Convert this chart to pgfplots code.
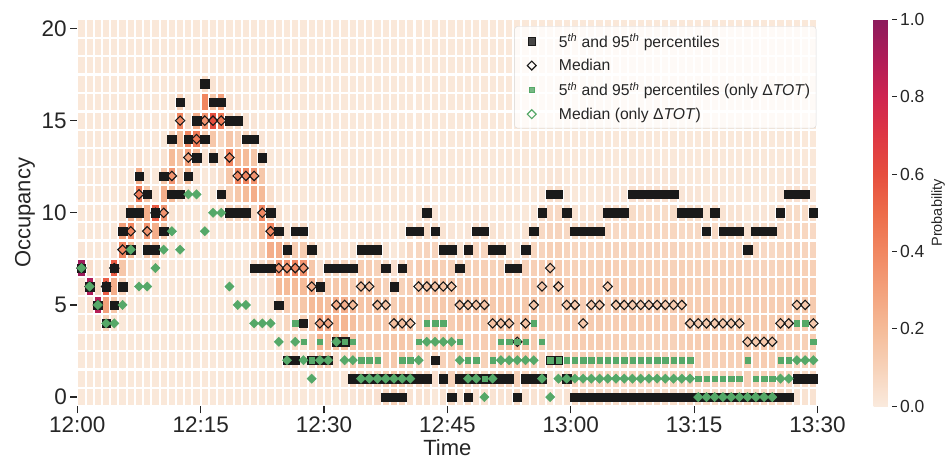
\documentclass[border=0pt]{standalone}
\usepackage{pgfplots}
\pgfplotsset{compat=1.18}
\usepackage{pgfplotstable}
\usepackage{fontspec}
\setmainfont{Liberation Sans}
\definecolor{blk}{RGB}{26,26,26}
\definecolor{sgreen}{RGB}{85,168,104}
\definecolor{txt}{RGB}{38,38,38}
\pgfplotsset{colormap={rocketr}{rgb255=(250,234,221) rgb255=(247,210,185) rgb255=(245,187,152) rgb255=(243,161,124) rgb255=(241,135,97) rgb255=(237,108,74) rgb255=(230,78,62) rgb255=(222,55,68) rgb255=(207,36,80) rgb255=(175,28,88) rgb255=(140,27,92)}}
\pgfdeclareplotmark{cell}{\pgfpathrectangle{\pgfqpoint{-3.11pt}{-8.08pt}}{\pgfqpoint{6.22pt}{16.16pt}}\pgfusepathqfill}
\pgfplotsset{myleg/.style={legend image code/.code={\path (0pt,-5pt) (38pt,5pt); \draw[##1] plot coordinates {(13pt,0pt)};}}}
% probability (percent) per minute column (rows) and occupancy 0..20 (columns r0..r20)
\pgfplotstableread{
r0 r1 r2 r3 r4 r5 r6 r7 r8 r9 r10 r11 r12 r13 r14 r15 r16 r17 r18 r19 r20
1 1 1 1 1 1 2 95 2 1 1 1 1 1 1 1 1 1 1 1 1
1 1 1 1 1 3 90 5 1 1 1 1 1 1 1 1 1 1 1 1 1
1 1 1 1 3 88 6 1 1 1 1 1 1 1 1 1 1 1 1 1 1
1 1 1 2 10 30 55 3 1 1 1 1 1 1 1 1 1 1 1 1 1
1 1 1 1 3 15 25 55 2 1 1 1 1 1 1 1 1 1 1 1 1
1 1 1 1 1 3 10 15 40 30 2 1 1 1 1 1 1 1 1 1 1
1 1 1 1 1 1 1 6 20 40 25 3 1 1 1 1 1 1 1 1 1
1 1 1 1 1 1 1 1 1 5 20 45 25 3 1 1 1 1 1 1 1
1 1 1 1 1 1 1 3 15 35 25 15 3 1 1 1 1 1 1 1 1
1 1 1 1 1 1 1 3 15 25 55 3 1 1 1 1 1 1 1 1 1
1 1 1 1 1 1 1 1 3 15 35 25 15 3 1 1 1 1 1 1 1
1 1 1 1 1 1 1 1 1 1 3 20 35 20 10 3 1 1 1 1 1
1 1 1 1 1 1 1 1 1 1 2 5 10 15 20 40 10 2 1 1 1
1 1 1 1 1 1 1 1 1 1 1 3 20 30 40 5 1 1 1 1 1
1 1 1 1 1 1 1 1 1 1 1 1 3 20 45 25 3 1 1 1 1
1 1 1 1 1 1 1 1 1 1 1 1 1 3 12 35 40 6 2 1 1
1 1 1 1 1 1 1 1 1 1 1 1 2 8 15 60 15 3 1 1 1
1 1 1 1 1 1 1 1 1 1 2 5 5 5 8 45 30 3 1 1 1
1 1 1 1 1 1 1 1 1 3 8 10 15 40 15 6 2 1 1 1 1
1 1 1 1 1 1 1 1 1 3 8 15 40 20 10 6 2 1 1 1 1
1 1 1 1 1 1 1 1 1 3 8 20 40 20 8 3 1 1 1 1 1
1 1 1 1 1 1 2 4 6 6 8 25 35 15 6 2 1 1 1 1 1
1 1 1 1 1 1 2 5 10 20 40 20 15 6 2 1 1 1 1 1 1
1 1 1 1 1 2 4 12 25 40 10 5 1 1 1 1 1 1 1 1 1
1 1 1 1 3 8 20 35 25 8 3 1 1 1 1 1 1 1 1 1 1
1 2 4 6 8 12 20 35 15 3 1 1 1 1 1 1 1 1 1 1 1
1 2 4 6 8 12 20 40 12 6 2 1 1 1 1 1 1 1 1 1 1
1 1 1 3 10 15 20 35 12 6 2 1 1 1 1 1 1 1 1 1 1
1 2 5 10 15 20 25 15 8 3 1 1 1 1 1 1 1 1 1 1 1
1 3 12 22 30 20 12 4 1 1 1 1 1 1 1 1 1 1 1 1 1
1 3 12 18 28 18 12 8 3 1 1 1 1 1 1 1 1 1 1 1 1
1 1 5 18 22 25 15 8 3 1 1 1 1 1 1 1 1 1 1 1 1
1 1 5 18 22 25 15 8 3 1 1 1 1 1 1 1 1 1 1 1 1
2 8 12 15 18 20 12 6 3 1 1 1 1 1 1 1 1 1 1 1 1
3 7 10 12 14 16 18 12 6 2 1 1 1 1 1 1 1 1 1 1 1
3 7 10 12 14 16 18 12 6 2 1 1 1 1 1 1 1 1 1 1 1
4 8 10 12 14 18 14 10 6 2 1 1 1 1 1 1 1 1 1 1 1
8 12 12 13 14 16 10 6 3 1 1 1 1 1 1 1 1 1 1 1 1
10 14 14 15 18 12 8 4 1 1 1 1 1 1 1 1 1 1 1 1 1
8 12 13 15 18 14 10 6 3 1 1 1 1 1 1 1 1 1 1 1 1
3 7 10 13 16 14 12 10 7 5 2 1 1 1 1 1 1 1 1 1 1
3 7 9 11 12 14 16 12 8 5 2 1 1 1 1 1 1 1 1 1 1
3 6 8 10 12 13 16 12 9 6 4 2 1 1 1 1 1 1 1 1 1
1 4 8 11 13 14 16 13 9 6 2 1 1 1 1 1 1 1 1 1 1
3 7 10 12 13 14 16 11 7 3 1 1 1 1 1 1 1 1 1 1 1
6 10 11 12 12 13 15 10 6 2 1 1 1 1 1 1 1 1 1 1 1
3 8 11 13 15 18 13 8 3 1 1 1 1 1 1 1 1 1 1 1 1
6 9 11 12 13 16 13 10 6 2 1 1 1 1 1 1 1 1 1 1 1
3 7 10 12 14 16 13 11 8 5 2 1 1 1 1 1 1 1 1 1 1
3 7 10 12 14 16 13 11 8 5 2 1 1 1 1 1 1 1 1 1 1
3 8 12 14 17 14 12 10 7 3 1 1 1 1 1 1 1 1 1 1 1
3 8 12 14 17 14 12 10 7 3 1 1 1 1 1 1 1 1 1 1 1
3 9 13 15 18 14 12 8 3 1 1 1 1 1 1 1 1 1 1 1 1
6 11 14 18 15 13 10 7 3 1 1 1 1 1 1 1 1 1 1 1 1
3 8 12 14 17 14 12 10 7 3 1 1 1 1 1 1 1 1 1 1 1
3 7 10 12 14 16 13 11 8 5 2 1 1 1 1 1 1 1 1 1 1
3 6 8 10 12 13 15 12 9 7 5 2 1 1 1 1 1 1 1 1 1
1 3 7 9 10 12 13 15 11 9 7 5 2 1 1 1 1 1 1 1 1
1 3 7 9 10 12 15 13 11 9 7 5 2 1 1 1 1 1 1 1 1
3 6 9 11 13 15 13 11 9 7 5 2 1 1 1 1 1 1 1 1 1
6 9 11 12 13 14 12 10 8 6 3 1 1 1 1 1 1 1 1 1 1
6 9 11 12 14 12 12 10 8 6 3 1 1 1 1 1 1 1 1 1 1
6 9 11 12 13 14 12 10 8 6 3 1 1 1 1 1 1 1 1 1 1
6 9 11 12 13 14 12 10 8 6 3 1 1 1 1 1 1 1 1 1 1
5 8 9 10 11 12 14 12 9 7 5 2 1 1 1 1 1 1 1 1 1
5 8 9 11 12 14 12 11 9 7 5 2 1 1 1 1 1 1 1 1 1
5 8 9 11 12 14 12 11 9 7 5 2 1 1 1 1 1 1 1 1 1
5 8 9 10 12 13 12 10 9 8 6 4 2 1 1 1 1 1 1 1 1
5 8 9 10 12 13 12 10 9 8 6 4 2 1 1 1 1 1 1 1 1
5 8 9 10 12 13 12 10 9 8 6 4 2 1 1 1 1 1 1 1 1
5 8 9 10 12 13 12 10 9 8 6 4 2 1 1 1 1 1 1 1 1
5 8 9 10 12 13 12 10 9 8 6 4 2 1 1 1 1 1 1 1 1
5 8 9 10 12 13 12 10 9 8 6 4 2 1 1 1 1 1 1 1 1
5 8 9 11 12 14 12 11 9 7 5 2 1 1 1 1 1 1 1 1 1
6 9 10 12 14 12 11 10 8 7 5 2 1 1 1 1 1 1 1 1 1
6 9 10 12 14 12 11 10 8 7 5 2 1 1 1 1 1 1 1 1 1
6 9 11 12 14 12 11 10 8 6 3 1 1 1 1 1 1 1 1 1 1
6 9 10 12 14 12 11 10 8 7 5 2 1 1 1 1 1 1 1 1 1
6 9 11 12 14 12 11 10 8 6 3 1 1 1 1 1 1 1 1 1 1
6 9 11 12 14 12 11 10 8 6 3 1 1 1 1 1 1 1 1 1 1
6 9 11 12 14 12 11 10 8 6 3 1 1 1 1 1 1 1 1 1 1
8 11 13 15 13 12 11 9 6 3 1 1 1 1 1 1 1 1 1 1 1
7 10 12 14 13 12 11 9 7 5 2 1 1 1 1 1 1 1 1 1 1
7 10 12 14 13 12 11 9 7 5 2 1 1 1 1 1 1 1 1 1 1
7 10 12 14 13 12 11 9 7 5 2 1 1 1 1 1 1 1 1 1 1
6 9 10 12 14 12 11 10 8 7 5 2 1 1 1 1 1 1 1 1 1
5 8 10 11 13 12 11 10 9 7 6 4 2 1 1 1 1 1 1 1 1
3 6 9 11 12 14 12 11 9 8 6 4 2 1 1 1 1 1 1 1 1
3 6 9 11 12 14 12 11 9 8 6 4 2 1 1 1 1 1 1 1 1
3 7 10 12 14 13 12 11 9 7 5 2 1 1 1 1 1 1 1 1 1
}\heat
\begin{document}
\begin{tikzpicture}[x=1pt,y=1pt]
\path[use as bounding box] (0,0) rectangle (948,463);
\begin{axis}[
  at={(77.3pt,56.7pt)}, anchor=south west,
  scale only axis, width=740.2pt, height=387pt,
  xmin=0, xmax=90, ymin=-0.5, ymax=20.5,
  axis line style={draw=none},
  xtick={0,15,30,45,60,75,90},
  xticklabels={12:00,12:15,12:30,12:45,13:00,13:15,13:30},
  ytick={0,5,10,15,20},
  tick align=outside, xtick pos=bottom, ytick pos=left,
  major tick length=7pt,
  tick style={color=txt, line width=1.2pt},
  /pgf/number format/assume math mode=true,
  ticklabel style={font=\fontsize{22.5}{22.5}\selectfont, text=txt},
  xlabel={Time}, ylabel={Occupancy},
  label style={font=\fontsize{22}{22}\selectfont, text=txt},
  colormap name=rocketr,
  point meta min=0, point meta max=100,
  colorbar,
  colorbar style={
    at={(parent axis.north east)}, anchor=north west, xshift=47.5pt,
    width=18pt,
    axis line style={draw=none},
    ytick={0,20,40,60,80,100},
    yticklabels={0.0,0.2,0.4,0.6,0.8,1.0},
    yticklabel pos=right, ytick pos=right,
    tick align=outside, major tick length=5pt,
    tick style={color=txt, line width=1pt},
    ticklabel style={font=\fontsize{17.5}{17.5}\selectfont, text=txt},
    ylabel={Probability},
    ylabel style={font=\fontsize{14.5}{14.5}\selectfont, text=txt},
  },
  legend style={at={(0.9985,0.982)}, anchor=north east,
    font=\fontsize{15.7}{15.7}\selectfont, text=txt,
    fill=white, fill opacity=0.8, text opacity=1, draw=black!15,
    rounded corners=3pt, row sep=6.5pt, inner xsep=4pt, inner ysep=5.5pt},
  legend cell align=left,
]
\addlegendimage{myleg, only marks, mark=square*, mark size=3.7pt, color=blk}
\addlegendentry{5\textsuperscript{\textit{th}} and 95\textsuperscript{\textit{th}} percentiles}
\addlegendimage{myleg, only marks, mark=square, mark size=3.1pt, mark options={rotate=45, draw=blk, line width=1.1pt}}
\addlegendentry{Median}
\addlegendimage{myleg, only marks, mark=square*, mark size=2.6pt, color=sgreen}
\addlegendentry{5\textsuperscript{\textit{th}} and 95\textsuperscript{\textit{th}} percentiles (only Δ\textit{TOT})}
\addlegendimage{myleg, only marks, mark=square, mark size=3.1pt, mark options={rotate=45, draw=sgreen, line width=1.1pt}}
\addlegendentry{Median (only Δ\textit{TOT})}

\pgfplotsinvokeforeach{0,...,20}{
  \addplot[scatter, only marks, mark=cell, point meta=explicit,
    scatter/use mapped color={draw=none, fill=mapped color}, forget plot]
    table[x expr=\coordindex+0.5, y expr=#1, meta=r#1] {\heat};
}

% 5th and 95th percentiles
\addplot[only marks, mark=square*, mark size=4.2pt, color=blk, forget plot] coordinates {
(0.5,7)(1.5,6)(2.5,5)(3.5,4)(3.5,6)(4.5,5)(4.5,7)(5.5,6)(5.5,9)(6.5,8)(6.5,10)(7.5,10)(7.5,12)(8.5,8)(8.5,11)(9.5,8)(9.5,10)(10.5,9)(10.5,12)(11.5,11)(11.5,14)(12.5,11)(12.5,16)(13.5,12)(13.5,14)(14.5,13)(14.5,15)(15.5,14)(15.5,17)(16.5,13)(16.5,16)(17.5,11)(17.5,16)(18.5,10)(18.5,15)(19.5,10)(19.5,15)(20.5,10)(20.5,14)(21.5,7)(21.5,14)(22.5,7)(22.5,13)(23.5,7)(23.5,10)(24.5,5)(24.5,9)(25.5,2)(25.5,8)(26.5,2)(26.5,9)(27.5,4)(27.5,9)(28.5,2)(28.5,8)(29.5,2)(29.5,6)
(30.5,2)(30.5,7)(31.5,3)(31.5,7)(32.5,3)(32.5,7)(33.5,1)(33.5,7)(34.5,1)(34.5,8)(35.5,1)(35.5,8)(36.5,1)(36.5,8)(37.5,0)(37.5,1)(37.5,7)(38.5,0)(38.5,1)(38.5,6)(39.5,0)(39.5,1)(39.5,7)(40.5,1)(40.5,9)(41.5,1)(41.5,9)(42.5,1)(42.5,10)(43.5,2)(43.5,9)(44.5,1)(44.5,8)(45.5,0)(45.5,8)(46.5,1)(46.5,7)(47.5,0)(47.5,1)(47.5,8)(48.5,1)(48.5,9)(49.5,1)(49.5,9)(50.5,1)(50.5,8)(51.5,1)(51.5,8)(52.5,1)(52.5,7)(53.5,0)(53.5,7)(54.5,1)(54.5,8)(55.5,1)(55.5,9)(56.5,1)(56.5,10)(57.5,2)(57.5,11)(58.5,2)(58.5,11)(59.5,1)(59.5,10)
(60.5,0)(60.5,9)(61.5,0)(61.5,9)(62.5,0)(62.5,9)(63.5,0)(63.5,9)(64.5,0)(64.5,10)(65.5,0)(65.5,10)(66.5,0)(66.5,10)(67.5,0)(67.5,11)(68.5,0)(68.5,11)(69.5,0)(69.5,11)(70.5,0)(70.5,11)(71.5,0)(71.5,11)(72.5,0)(72.5,11)(73.5,0)(73.5,10)(74.5,0)(74.5,10)(75.5,0)(75.5,10)(76.5,0)(76.5,9)(77.5,0)(77.5,10)(78.5,0)(78.5,9)(79.5,0)(79.5,9)(80.5,0)(80.5,9)(81.5,0)(81.5,8)(82.5,0)(82.5,9)(83.5,0)(83.5,9)(84.5,0)(84.5,9)(85.5,0)(85.5,10)(86.5,0)(86.5,11)(87.5,1)(87.5,11)(88.5,1)(88.5,11)(89.5,1)(89.5,10)
};
% median
\addplot[only marks, mark=square, mark size=3.3pt, mark options={rotate=45, draw=blk, line width=1.1pt}, forget plot] coordinates {
(0.5,7)(1.5,6)(2.5,5)(3.5,6)(4.5,7)(5.5,8)(6.5,9)(7.5,11)(8.5,9)(9.5,10)(10.5,10)(11.5,12)(12.5,15)(13.5,13)(14.5,14)(15.5,15)(16.5,15)(17.5,15)(18.5,13)(19.5,12)(20.5,12)(21.5,12)(22.5,10)(23.5,9)(24.5,7)(25.5,7)(26.5,7)(27.5,7)(28.5,6)(29.5,4)
(30.5,4)(31.5,5)(32.5,5)(33.5,5)(34.5,6)(35.5,6)(36.5,5)(37.5,5)(38.5,4)(39.5,4)(40.5,4)(41.5,6)(42.5,6)(43.5,6)(44.5,6)(45.5,6)(46.5,5)(47.5,5)(48.5,5)(49.5,5)(50.5,4)(51.5,4)(52.5,4)(53.5,3)(54.5,4)(55.5,5)(56.5,6)(57.5,7)(58.5,6)(59.5,5)
(60.5,5)(61.5,4)(62.5,5)(63.5,5)(64.5,6)(65.5,5)(66.5,5)(67.5,5)(68.5,5)(69.5,5)(70.5,5)(71.5,5)(72.5,5)(73.5,5)(74.5,4)(75.5,4)(76.5,4)(77.5,4)(78.5,4)(79.5,4)(80.5,4)(81.5,3)(82.5,3)(83.5,3)(84.5,3)(85.5,4)(86.5,4)(87.5,5)(88.5,5)(89.5,4)
};
% 5th and 95th percentiles (only dTOT)
\addplot[only marks, mark=square*, mark size=2.7pt, color=sgreen, forget plot] coordinates {
(26.5,4)(42.5,4)(43.5,4)(44.5,4)(55.5,4)(87.5,4)(88.5,4)
(27.5,3)(29.5,3)(32.5,3)(33.5,3)(41.5,3)(46.5,3)(51.5,3)(52.5,3)(53.5,3)(54.5,3)(56.5,3)(89.5,3)
(28.5,2)(34.5,2)(35.5,2)(36.5,2)(39.5,2)(40.5,2)(47.5,2)(48.5,2)(50.5,2)(57.5,2)(58.5,2)(59.5,2)(60.5,2)(61.5,2)(62.5,2)(63.5,2)(64.5,2)(65.5,2)(66.5,2)(67.5,2)(68.5,2)(69.5,2)(70.5,2)(71.5,2)(72.5,2)(73.5,2)(74.5,2)(81.5,2)(85.5,2)(86.5,2)
(49.5,1)(75.5,1)(76.5,1)(77.5,1)(78.5,1)(79.5,1)(80.5,1)(82.5,1)(83.5,1)(84.5,1)
};
% median (only dTOT)
\addplot[only marks, mark=square*, mark size=3.3pt, mark options={rotate=45}, color=sgreen, forget plot] coordinates {
(0.5,7)(1.5,6)(2.5,5)(3.5,4)(4.5,4)(5.5,5)(6.5,8)(7.5,6)(8.5,6)(9.5,7)(10.5,8)(11.5,9)(12.5,8)(13.5,11)(14.5,11)(15.5,9)(16.5,10)(17.5,10)(18.5,6)(19.5,5)(20.5,5)(21.5,4)(22.5,4)(23.5,4)(24.5,3)(25.5,2)(26.5,3)(27.5,2)(28.5,1)(29.5,2)
(30.5,2)(31.5,3)(32.5,2)(33.5,2)(34.5,1)(35.5,1)(36.5,1)(37.5,1)(38.5,1)(39.5,1)(40.5,1)(41.5,2)(42.5,3)(43.5,3)(44.5,3)(45.5,3)(46.5,2)(47.5,1)(48.5,1)(49.5,0)(50.5,1)(51.5,2)(52.5,2)(53.5,2)(54.5,2)(55.5,2)(56.5,1)(57.5,0)(58.5,1)(59.5,1)
(60.5,1)(61.5,1)(62.5,1)(63.5,1)(64.5,1)(65.5,1)(66.5,1)(67.5,1)(68.5,1)(69.5,1)(70.5,1)(71.5,1)(72.5,1)(73.5,1)(74.5,1)(75.5,0)(76.5,0)(77.5,0)(78.5,0)(79.5,0)(80.5,0)(81.5,0)(82.5,0)(83.5,0)(84.5,0)(85.5,1)(86.5,1)(87.5,2)(88.5,2)(89.5,2)
};
\end{axis}
\end{tikzpicture}
\end{document}
